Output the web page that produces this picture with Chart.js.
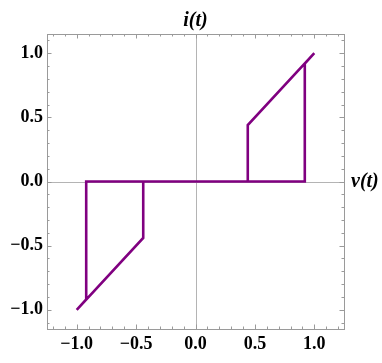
<!DOCTYPE html>
<html>
<head>
<meta charset="utf-8">
<script src="https://cdn.jsdelivr.net/npm/chart.js@4.4.1/dist/chart.umd.min.js"></script>
<style>
  html, body { margin: 0; padding: 0; background: #fff; }
  #wrap { width: 382px; height: 363px; }
</style>
</head>
<body>
<div id="wrap"><canvas id="myChart" width="382" height="363"></canvas></div>
<script>
// hysteresis path, v(t) against i(t)
const vPoints = [-1, -0.44, -0.44, 0.44, 0.44, 1, 0.92, 0.92, -0.92, -0.92, -1];
const iPoints = [-1, -0.44, 0, 0, 0.44, 1, 0.92, 0, 0, -0.92, -1];

const xTicks = [-1, -0.5, 0, 0.5, 1];
const xTickLabels = ['\u22121.0', '\u22120.5', '0.0', '0.5', '1.0'];
const yTicks = [-1, -0.5, 0, 0.5, 1];
const yTickLabels = ['\u22121.0', '\u22120.5', '0.0', '0.5', '1.0'];

const xLabel = 'v(t)';
const yLabel = 'i(t)';

const tickFont = { family: '"Liberation Serif", "DejaVu Serif", serif', size: 18, weight: 'bold' };

// frame with inward ticks and the axes through the origin
const framePlugin = {
    id: 'framePlugin',
    beforeDatasetsDraw(chart) {
        const ctx = chart.ctx;
        const a = chart.chartArea;
        const xs = chart.scales.x;
        const ys = chart.scales.y;
        ctx.save();

        // axes at zero
        ctx.strokeStyle = '#b4b4b4';
        ctx.lineWidth = 1;
        const x0 = Math.round(xs.getPixelForValue(0)) + 0.5;
        const y0 = Math.round(ys.getPixelForValue(0)) + 0.5;
        ctx.beginPath();
        ctx.moveTo(x0, a.top); ctx.lineTo(x0, a.bottom);
        ctx.moveTo(a.left, y0); ctx.lineTo(a.right, y0);
        ctx.stroke();

        // frame
        ctx.strokeStyle = '#9a9a9a';
        ctx.strokeRect(Math.round(a.left) + 0.5, Math.round(a.top) + 0.5,
            Math.round(a.right - a.left), Math.round(a.bottom - a.top));

        // ticks
        ctx.beginPath();
        for (let k = -12; k <= 12; k++) {
            const val = k / 10;
            const major = k % 5 === 0;
            const len = major ? 4.5 : 2.5;
            if (val >= xs.min && val <= xs.max) {
                const px = Math.round(xs.getPixelForValue(val)) + 0.5;
                ctx.moveTo(px, a.bottom); ctx.lineTo(px, a.bottom - len);
                ctx.moveTo(px, a.top); ctx.lineTo(px, a.top + len);
            }
            if (val >= ys.min && val <= ys.max) {
                const py = Math.round(ys.getPixelForValue(val)) + 0.5;
                ctx.moveTo(a.left, py); ctx.lineTo(a.left + len, py);
                ctx.moveTo(a.right, py); ctx.lineTo(a.right - len, py);
            }
        }
        ctx.stroke();
        ctx.restore();
    },
    afterDraw(chart) {
        const ctx = chart.ctx;
        const a = chart.chartArea;
        const xs = chart.scales.x;
        const ys = chart.scales.y;
        ctx.save();
        ctx.fillStyle = '#000';
        ctx.font = 'italic bold 20px "Liberation Serif", "DejaVu Serif", serif';
        ctx.textBaseline = 'alphabetic';
        ctx.textAlign = 'center';
        ctx.fillText(yLabel, xs.getPixelForValue(0), 26);
        ctx.textAlign = 'left';
        ctx.textBaseline = 'middle';
        ctx.fillText(xLabel, a.right + 7, ys.getPixelForValue(0));
        ctx.restore();
    }
};

const ctx = document.getElementById('myChart').getContext('2d');
const chart = new Chart(ctx, {
    type: 'scatter',
    data: {
        datasets: [{
            data: vPoints.map((v, k) => ({ x: v, y: iPoints[k] })),
            showLine: true,
            borderColor: '#800080',
            borderWidth: 2.6,
            pointRadius: 0,
            fill: false,
            tension: 0
        }]
    },
    options: {
        responsive: false,
        animation: false,
        layout: { padding: { top: 34, right: 38, left: 0, bottom: 0 } },
        plugins: {
            legend: { display: false },
            tooltip: { enabled: false }
        },
        scales: {
            x: {
                type: 'linear',
                min: -1.25,
                max: 1.25,
                grid: { display: false, drawTicks: false },
                border: { display: false },
                afterBuildTicks: s => { s.ticks = xTicks.map(v => ({ value: v })); },
                afterFit: s => { s.height = 34; },
                ticks: {
                    color: '#000',
                    font: tickFont,
                    padding: 5,
                    maxRotation: 0,
                    callback: (v) => xTickLabels[xTicks.indexOf(v)]
                }
            },
            y: {
                type: 'linear',
                min: -1.15,
                max: 1.15,
                grid: { display: false, drawTicks: false },
                border: { display: false },
                afterBuildTicks: s => { s.ticks = yTicks.map(v => ({ value: v })); },
                afterFit: s => { s.width = 47; },
                ticks: {
                    color: '#000',
                    font: tickFont,
                    padding: 4,
                    callback: (v) => yTickLabels[yTicks.indexOf(v)]
                }
            }
        }
    },
    plugins: [framePlugin]
});
</script>
</body>
</html>
